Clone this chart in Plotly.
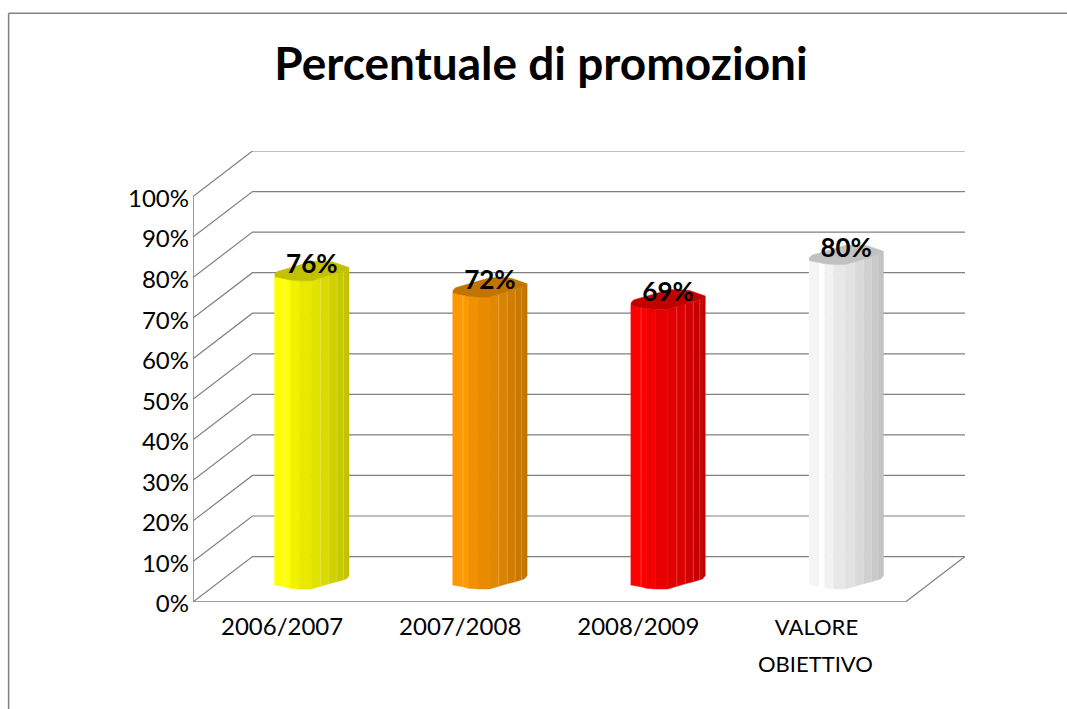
import plotly.graph_objects as go

# ---- data -------------------------------------------------------------
categories = ["2006/2007", "2007/2008", "2008/2009", "VALORE OBIETTIVO"]
values = [76, 72, 69, 80]
data_labels = ["76%", "72%", "69%", "80%"]
y_ticks = [0, 10, 20, 30, 40, 50, 60, 70, 80, 90, 100]
y_tick_labels = ["0%", "10%", "20%", "30%", "40%", "50%", "60%", "70%", "80%", "90%", "100%"]
title_text = "Percentuale di promozioni"

# ---- style ------------------------------------------------------------
base_colors = [(255, 255, 0), (255, 153, 0), (255, 0, 0), (255, 255, 255)]
first_strip_shade = [1.0, 1.0, 1.0, 0.96]
shades = [1.0, 1.0, 0.95, 0.91, 0.885, 0.855, 0.815, 0.79, 0.77, 0.755]
top_shade = 0.755
# outline of the visible half of a cylinder, in pixels from its centre
facet_dx = [-37.2, -27, -21.5, -12.5, -0.5, 8.8, 17.2, 25.2, 31.8, 34.5, 37.2]
facet_dy = [5.75, 7.5, 9, 9.75, 9.75, 7, 4.5, 2.5, 0.5, -0.5, -3.5]
separators = [1, 5, 6, 7, 8]
GRID = "#808080"
FONT = "Lato"

# ---- geometry (page margin removed below, so page px = figure px) --------
LEFT, RIGHT, TOP, BOTTOM = 192.5, 965.0, 150.5, 602.0
DEPTH_PX_X, DEPTH_PX_Y = 59.5, 45.5
PX_PER_CAT = (RIGHT - LEFT - DEPTH_PX_X) / len(categories)
PX_PER_PCT = (BOTTOM - TOP - DEPTH_PX_Y) / 100
DX = DEPTH_PX_X / PX_PER_CAT
DY = DEPTH_PX_Y / PX_PER_PCT
N = len(categories)


def shade(rgb, f):
    return "rgb(%d,%d,%d)" % tuple(round(c * f) for c in rgb)


fig = go.Figure()


def line(xs, ys, color=GRID, width=1.2):
    fig.add_trace(go.Scatter(x=xs, y=ys, mode="lines", line=dict(color=color, width=width),
                             hoverinfo="skip", showlegend=False))


# walls and floor
for t in y_ticks:
    line([0, DX, N + DX], [t, t + DY, t + DY])
line([N, N + DX], [0, DY])
line([0, N], [0, 0], width=1.6)
line([0, 0], [0, y_ticks[-1]], width=1.6)

# cylinders
for i, (v, rgb) in enumerate(zip(values, base_colors)):
    cx = i + 0.5 + DX / 2
    cy = DY / 2
    px = [cx + d / PX_PER_CAT for d in facet_dx]
    py = [-d / PX_PER_PCT for d in facet_dy]
    for k in range(len(px) - 1):
        f = shades[k] * (first_strip_shade[i] if k == 0 else 1)
        fig.add_trace(go.Scatter(
            x=[px[k], px[k + 1], px[k + 1], px[k], px[k]],
            y=[cy + py[k], cy + py[k + 1], cy + v + py[k + 1], cy + v + py[k], cy + py[k]],
            mode="lines", fill="toself", fillcolor=shade(rgb, f),
            line=dict(width=0.5, color=shade(rgb, f)), hoverinfo="skip", showlegend=False))
    sx, sy = [], []
    for k in separators:
        sx += [px[k], px[k], None]
        sy += [cy + py[k], cy + v + py[k], None]
    fig.add_trace(go.Scatter(x=sx, y=sy, mode="lines", line=dict(width=0.6, color="rgba(255,255,255,0.35)"),
                             hoverinfo="skip", showlegend=False))
    # top face: front outline followed by its mirror image at the back
    tx = px + [2 * cx - a for a in px[1:]]
    ty = [cy + v + b for b in py] + [cy + v - b for b in py[1:]]
    fig.add_trace(go.Scatter(x=tx, y=ty, mode="lines", fill="toself",
                             fillcolor=shade(rgb, top_shade),
                             line=dict(width=0.5, color=shade(rgb, top_shade)),
                             hoverinfo="skip", showlegend=False))

# data labels
fig.add_trace(go.Scatter(
    x=[i + 0.5 + DX / 2 for i in range(N)],
    y=[v + DY / 2 + 4.5 / PX_PER_PCT for v in values],
    mode="text", text=data_labels, textposition="middle center",
    textfont=dict(family=FONT, size=26, color="black", weight="bold"),
    hoverinfo="skip", showlegend=False, cliponaxis=False))

W, H = 1067, 709
tick_text = [c.split(" ")[0] for c in categories]
tick_text[3] = '<span style="font-size:22px">%s</span>' % tick_text[3]
fig.update_layout(
    width=W, height=H, autosize=False,
    paper_bgcolor="white", plot_bgcolor="white",
    margin=dict(l=LEFT, r=W - RIGHT, t=TOP, b=H - BOTTOM, pad=0),
    font=dict(family=FONT, color="black"),
    title=dict(text=title_text, x=541 / W, xanchor="center", y=1 - 64 / H, yanchor="middle",
               font=dict(family=FONT, size=46, color="black", weight="bold")),
    xaxis=dict(range=[0, N + DX], tickmode="array", tickvals=[i + 0.5 for i in range(N)],
               ticktext=tick_text, tickangle=0,
               showgrid=False, zeroline=False, showline=False, ticks="outside", ticklen=3,
               tickcolor="rgba(0,0,0,0)", tickfont=dict(family=FONT, size=24, color="black")),
    yaxis=dict(range=[0, 100 + DY], tickmode="array", tickvals=y_ticks, ticktext=y_tick_labels,
               showgrid=False, zeroline=False, showline=False, ticks="", ticklen=0,
               ticklabelstandoff=3, ticklabelshift=2,
               tickfont=dict(family=FONT, size=24, color="black")),
    annotations=[dict(text=categories[3].split(" ")[1], x=3.5, xref="x", xanchor="center", xshift=-1,
                      y=(BOTTOM - 664) / (BOTTOM - TOP), yref="paper", yanchor="middle",
                      showarrow=False, font=dict(family=FONT, size=22, color="black"))],
    shapes=[
        dict(type="line", xref="paper", yref="paper", layer="below",
             x0=(8 - LEFT) / (RIGHT - LEFT), x1=(W - LEFT) / (RIGHT - LEFT),
             y0=(BOTTOM - 12.5) / (BOTTOM - TOP), y1=(BOTTOM - 12.5) / (BOTTOM - TOP),
             line=dict(color=GRID, width=1.5)),
        dict(type="line", xref="paper", yref="paper", layer="below",
             x0=(8 - LEFT) / (RIGHT - LEFT), x1=(8 - LEFT) / (RIGHT - LEFT),
             y0=(BOTTOM - 12.5) / (BOTTOM - TOP), y1=(BOTTOM - H) / (BOTTOM - TOP),
             line=dict(color=GRID, width=1.5)),
    ],
)
fig.write_html("out.html", config=dict(displayModeBar=False),
               post_script="document.body.style.margin='0';")
